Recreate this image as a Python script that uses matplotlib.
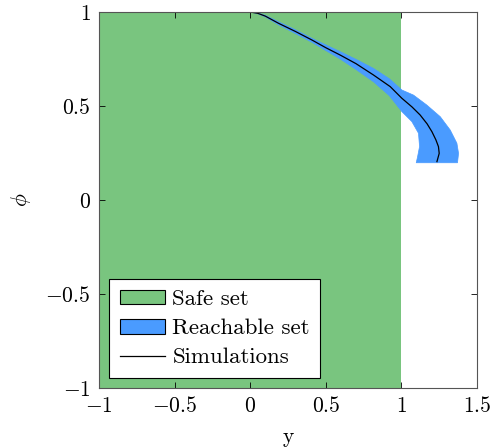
import matplotlib.pyplot as plt
from matplotlib.patches import Rectangle, Polygon
from matplotlib.lines import Line2D

plt.rcParams['mathtext.fontset'] = 'cm'
plt.rcParams['font.family'] = 'serif'
plt.rcParams['font.serif'] = ['cmr10', 'DejaVu Serif']
plt.rcParams['axes.formatter.use_mathtext'] = True

# safe set box
safe_y = [-1.0, 1.0]
safe_phi = [-1.0, 1.0]

# reachable set outline: outer edge then inner edge (reversed)
reach_outer_y = [0.0, 0.05, 0.1, 0.187, 0.3, 0.408, 0.5, 0.595, 0.7, 0.815, 0.92, 1.003,
                 1.08, 1.168, 1.257, 1.323, 1.367, 1.378, 1.371]
reach_outer_phi = [1.0, 0.995, 0.982, 0.948, 0.905, 0.86, 0.825, 0.789, 0.748, 0.70, 0.645, 0.585,
                   0.558, 0.505, 0.443, 0.372, 0.302, 0.248, 0.198]
reach_inner_y = [0.0, 0.05, 0.1, 0.187, 0.3, 0.408, 0.5, 0.595, 0.7, 0.815, 0.92, 1.003,
                 1.069, 1.113, 1.12, 1.107, 1.098]
reach_inner_phi = [1.0, 0.991, 0.974, 0.932, 0.885, 0.839, 0.795, 0.750, 0.694, 0.629, 0.555, 0.47,
                   0.417, 0.355, 0.284, 0.23, 0.198]

# simulated trajectory
sim_y = [0.0, 0.05, 0.1, 0.187, 0.3, 0.408, 0.5, 0.595, 0.7, 0.815, 0.926, 1.003,
         1.07, 1.124, 1.17, 1.202, 1.228, 1.245, 1.25, 1.235]
sim_phi = [1.0, 0.993, 0.978, 0.94, 0.896, 0.851, 0.81, 0.771, 0.725, 0.665, 0.603, 0.541,
           0.495, 0.452, 0.405, 0.363, 0.32, 0.284, 0.248, 0.204]

xticks = [-1, -0.5, 0, 0.5, 1, 1.5]
yticks = [-1, -0.5, 0, 0.5, 1]

green = '#79c57f'
blue = '#4a9bff'

fig = plt.figure(figsize=(4.91, 4.47), dpi=100)
ax = fig.add_axes([0.2016, 0.132, 0.7699, 0.8412])

ax.add_patch(Rectangle((safe_y[0], safe_phi[0]), safe_y[1] - safe_y[0],
                       safe_phi[1] - safe_phi[0], facecolor=green, edgecolor='none', zorder=1))
pts = list(zip(reach_outer_y, reach_outer_phi)) + list(zip(reach_inner_y, reach_inner_phi))[::-1]
ax.add_patch(Polygon(pts, closed=True, facecolor=blue, edgecolor=blue, linewidth=0.5, zorder=2))
ax.plot(sim_y, sim_phi, color='black', linewidth=0.9, zorder=3)

ax.set_xlim(-1, 1.5)
ax.set_ylim(-1, 1)
ax.set_xticks(xticks)
ax.set_yticks(yticks)
ax.set_xticklabels(['$%g$' % t if t >= 0 else '$-%g$' % -t for t in xticks])
ax.set_yticklabels(['$%g$' % t if t >= 0 else '$-%g$' % -t for t in yticks])
ax.tick_params(direction='in', top=True, right=True, labelsize=15.5, length=4, width=0.6, pad=6)
for s in ax.spines.values():
    s.set_linewidth(0.8)
    s.set_color('#555555')
    s.set_zorder(4)

ax.set_xlabel('y', fontsize=15.5, labelpad=8)
ax.set_ylabel(r'$\phi$', fontsize=15.5, labelpad=9)

handles = [
    Rectangle((0, 0), 1, 1, facecolor=green, edgecolor='black', linewidth=0.8),
    Rectangle((0, 0), 1, 1, facecolor=blue, edgecolor='black', linewidth=0.8),
    Line2D([], [], color='black', linewidth=0.9),
]
leg = ax.legend(handles, ['Safe set', 'Reachable set', 'Simulations'], loc='lower left',
                fontsize=16.5, fancybox=False, framealpha=1, edgecolor='black',
                borderaxespad=0.45, handlelength=2.0, handleheight=0.62,
                handletextpad=0.3, labelspacing=0.42, borderpad=0.45)
leg.get_frame().set_linewidth(0.8)

fig.savefig('out.png', dpi=100)
